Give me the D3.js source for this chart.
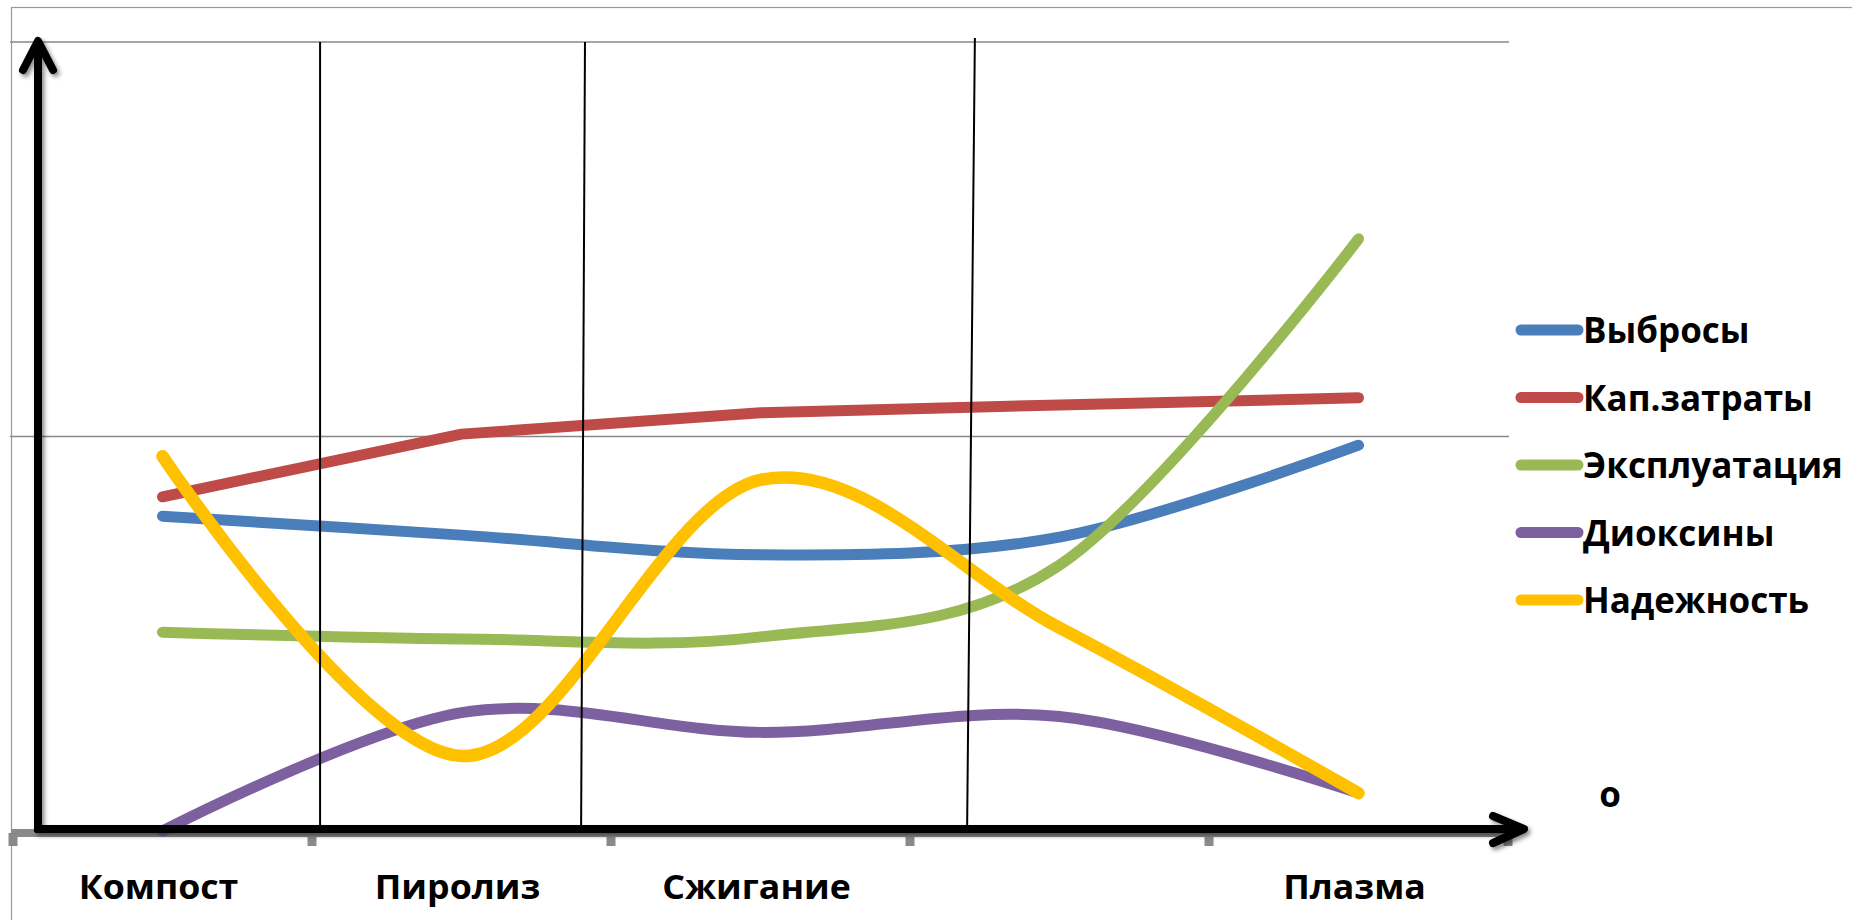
<!DOCTYPE html>
<html>
<head>
<meta charset="utf-8">
<script src="https://cdn.jsdelivr.net/npm/d3@7"></script>
<style>
  html, body { margin: 0; padding: 0; background: #ffffff; overflow: hidden; }
  text { font-family: "Open Sans", "DejaVu Sans", sans-serif; font-weight: 700; fill: #000; }
</style>
</head>
<body>
<svg id="chart" width="1852" height="920"></svg>
<script>
// Categories along the horizontal axis (the fourth slot has no caption)
const categories = ["Компост", "Пиролиз", "Сжигание", "", "Плазма"];

// Series names and values
const seriesNames = ["Выбросы", "Кап.затраты", "Эксплуатация", "Диоксины", "Надежность"];
const vybrosy        = [0.798, 0.750, 0.700, 0.745, 0.978];
const kapZatraty     = [0.847, 1.006, 1.060, 1.080, 1.098];
const ekspluatatsiya = [0.504, 0.487, 0.492, 0.674, 1.501];
const dioksiny       = [0.000, 0.300, 0.250, 0.290, 0.096];
const nadezhnost     = [0.950, 0.190, 0.890, 0.515, 0.096];

// Value axis gridline levels
const valueTicks = [1, 2];

// Section dividers between technology groups, in category units (top, bottom)
const dividers = [[1.027, 1.027], [1.913, 1.900], [3.217, 3.191]];

const seriesValues = [vybrosy, kapZatraty, ekspluatatsiya, dioksiny, nadezhnost];
const seriesColors = ["#4a7ebb", "#be4b48", "#98b954", "#7d60a0", "#ffc000"];
const seriesSmooth = [true, false, true, true, true];
const seriesWidth  = [11, 11, 11, 11, 12.5];

const svg = d3.select("#chart");

const plot = { left: 13, right: 1508, top: 42, zero: 831 };

const x = d3.scaleBand()
  .domain(d3.range(categories.length))
  .range([plot.left, plot.right])
  .padding(0);

const y = d3.scaleLinear().domain([0, 2]).range([plot.zero, plot.top]);

// category units -> pixels (used for dividers and tick marks)
const xu = d3.scaleLinear().domain([0, categories.length]).range([plot.left, plot.right]);

const defs = svg.append("defs");
const shadow = defs.append("filter").attr("id", "shadow")
  .attr("x", "-20%").attr("y", "-20%").attr("width", "140%").attr("height", "140%");
shadow.append("feDropShadow")
  .attr("dx", 2.5).attr("dy", 3).attr("stdDeviation", 2.2)
  .attr("flood-color", "#000").attr("flood-opacity", 0.45);

// outer chart frame
svg.append("rect")
  .attr("x", 11.5).attr("y", 7.5)
  .attr("width", 1900).attr("height", 1000)
  .attr("fill", "none").attr("stroke", "#9a9a9a").attr("stroke-width", 1.2);

// horizontal gridlines
svg.append("g").selectAll("line")
  .data(valueTicks)
  .join("line")
  .attr("x1", plot.left - 3).attr("x2", plot.right + 1)
  .attr("y1", d => y(d)).attr("y2", d => y(d))
  .attr("stroke", "#888888").attr("stroke-width", 1.6);

// category axis line and tick marks
const axisY = y(0) + 2;
svg.append("line")
  .attr("x1", plot.left - 2).attr("x2", plot.right)
  .attr("y1", axisY).attr("y2", axisY)
  .attr("stroke", "#8a8a8a").attr("stroke-width", 8);

svg.append("g").selectAll("rect")
  .data(d3.range(categories.length + 1))
  .join("rect")
  .attr("x", d => xu(d) - 4.5)
  .attr("y", axisY)
  .attr("width", 9).attr("height", 13)
  .attr("fill", "#8a8a8a");

// category labels (slightly widened face)
svg.append("g").selectAll("text")
  .data(categories)
  .join("text")
  .attr("transform", (d, i) => `translate(${x(i) + x.bandwidth() / 2 - 4}, 899) scale(1.05, 1)`)
  .attr("text-anchor", "middle")
  .attr("font-size", 34)
  .text(d => d);

// series lines
const lineLinear = d3.line().x((d, i) => x(i) + x.bandwidth() / 2).y(d => y(d)).curve(d3.curveLinear);
const lineSmooth = d3.line().x((d, i) => x(i) + x.bandwidth() / 2).y(d => y(d)).curve(d3.curveCardinal.tension(0));

svg.append("g").selectAll("path")
  .data(seriesValues)
  .join("path")
  .attr("d", (d, i) => (seriesSmooth[i] ? lineSmooth : lineLinear)(d))
  .attr("fill", "none")
  .attr("stroke", (d, i) => seriesColors[i])
  .attr("stroke-width", (d, i) => seriesWidth[i])
  .attr("stroke-linecap", "round")
  .attr("stroke-linejoin", "round");

// section dividers
svg.append("g").selectAll("line")
  .data(dividers)
  .join("line")
  .attr("x1", d => xu(d[0])).attr("x2", d => xu(d[1]))
  .attr("y1", (d, i) => y(2) - (i === 2 ? 4 : 0)).attr("y2", y(0) - 3)
  .attr("stroke", "#000").attr("stroke-width", 2);

// axis arrows
const arrows = svg.append("g").attr("filter", "url(#shadow)")
  .attr("fill", "none").attr("stroke", "#000").attr("stroke-width", 8)
  .attr("stroke-linecap", "round").attr("stroke-linejoin", "round");

const ax0 = 38, axTip = y(2) - 1, axBottom = y(0) + 1;
arrows.append("path")
  .attr("d", `M${ax0},${axBottom} L${ax0},${axTip}`)
  .attr("stroke-linecap", "butt");
arrows.append("path")
  .attr("d", `M${ax0 - 15},${axTip + 29} L${ax0},${axTip} L${ax0 + 15},${axTip + 29}`);

const hy = y(0) - 2, hTip = 1524;
arrows.append("path")
  .attr("d", `M${ax0 - 3},${hy} L${hTip},${hy}`)
  .attr("stroke-linecap", "butt");
arrows.append("path")
  .attr("d", `M${hTip - 31},${hy - 13} L${hTip},${hy} L${hTip - 31},${hy + 14}`);

// legend
const legend = svg.append("g").selectAll("g")
  .data(seriesNames)
  .join("g")
  .attr("transform", (d, i) => `translate(0, ${330 + i * 67.5})`);

legend.append("line")
  .attr("x1", 1521).attr("x2", 1578)
  .attr("y1", 0).attr("y2", 0)
  .attr("stroke", (d, i) => seriesColors[i])
  .attr("stroke-width", 11)
  .attr("stroke-linecap", "round");

legend.append("text")
  .attr("x", 1583).attr("y", 13)
  .attr("font-size", 35)
  .text(d => d);

// stray marker glyph to the right of the axis
svg.append("text")
  .attr("x", 1610).attr("y", 807)
  .attr("text-anchor", "middle")
  .attr("font-size", 35)
  .text("o");
</script>
</body>
</html>
